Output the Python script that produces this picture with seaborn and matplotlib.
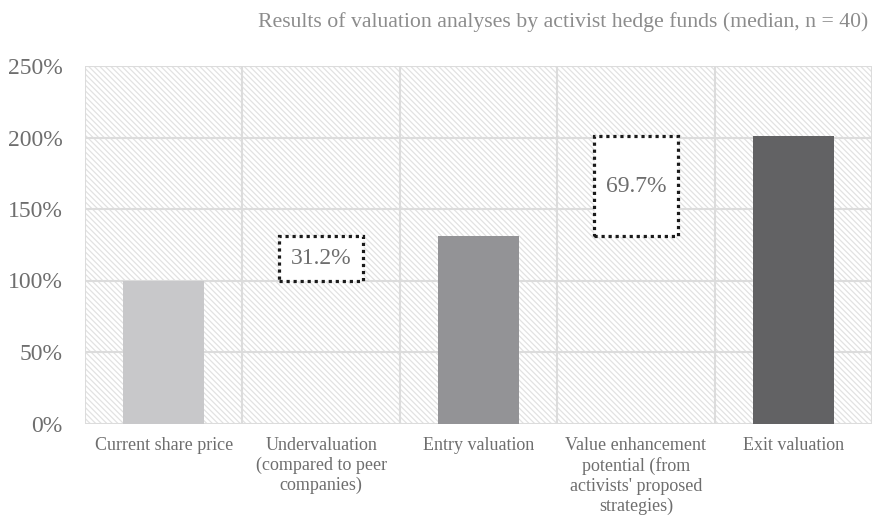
import matplotlib
matplotlib.use("Agg")
import matplotlib.pyplot as plt
import seaborn as sns
import pandas as pd
import numpy as np
from matplotlib.patches import Rectangle
from matplotlib.ticker import FuncFormatter

categories = [
    "Current share price",
    "Undervaluation\n(compared to peer\ncompanies)",
    "Entry valuation",
    "Value enhancement\npotential (from\nactivists' proposed\nstrategies)",
    "Exit valuation",
]
bar_values = [100.0, np.nan, 131.2, np.nan, 200.9]
step_values = [np.nan, 31.2, np.nan, 69.7, np.nan]
step_bottoms = [np.nan, 100.0, np.nan, 131.2, np.nan]
bar_colors = ["#c8c8ca", "#ffffff", "#939396", "#ffffff", "#626264"]
y_ticks = [0, 50, 100, 150, 200, 250]
title = "Results of valuation analyses by activist hedge funds (median, n = 40)"

sns.set_theme(style="white")
plt.rcParams["font.family"] = ["Liberation Serif", "DejaVu Serif"]
plt.rcParams["hatch.linewidth"] = 0.9

fig = plt.figure(figsize=(8.72, 5.17), dpi=100)
ax = fig.add_axes([85 / 872, 1 - 423.5 / 517, (872 - 85) / 872, (423.5 - 66) / 517])

# hatched background
ax.add_patch(Rectangle((0, 0), 1, 1, transform=ax.transAxes, facecolor="white",
                       edgecolor="#e2e2e2", hatch="\\" * 6, linewidth=0, zorder=0))

df = pd.DataFrame({"category": categories, "value": bar_values})
sns.barplot(data=df, x="category", y="value", hue="category", palette=bar_colors,
            legend=False, width=0.515, ax=ax, zorder=3, linewidth=0, saturation=1)

text_color = "#6e6e6e"
xs = np.arange(len(categories))
for x, h, b in zip(xs, step_values, step_bottoms):
    if np.isnan(h):
        continue
    ax.bar(x, h, bottom=b, width=0.53, facecolor="white", edgecolor="#1a1a1a",
           linewidth=2.3, linestyle=(0, (1, 1.2)), zorder=4)
    ax.text(x, b + h / 2, f"{h:.1f}%", ha="center", va="center", fontsize=17,
            color=text_color, zorder=5)

ax.set_xlim(-0.5, len(categories) - 0.5)
ax.set_ylim(0, 250)
ax.set_yticks(y_ticks)
ax.yaxis.set_major_formatter(FuncFormatter(lambda v, p: f"{v:.0f}%"))
ax.set_xlabel("")
ax.set_ylabel("")

grid_color = "#dcdcdc"
for y in y_ticks:
    ax.axhline(y, color=grid_color, linewidth=1.5, zorder=1)
for b in np.arange(-0.5, len(categories), 1.0):
    ax.axvline(b, color=grid_color, linewidth=1.5, zorder=1)

for s in ax.spines.values():
    s.set_visible(False)

ax.tick_params(axis="both", length=0)
ax.tick_params(axis="y", labelsize=17, labelcolor=text_color, pad=16)
ax.tick_params(axis="x", labelsize=13, labelcolor=text_color, pad=10)
for lab in ax.get_xticklabels():
    lab.set_linespacing(1.2)
    lab.set_verticalalignment("top")

fig.text(868 / 872, 1 - 22 / 517, title, ha="right", va="center", fontsize=15.7,
         color="#8c8c8c")

fig.savefig("out.png", dpi=100)
